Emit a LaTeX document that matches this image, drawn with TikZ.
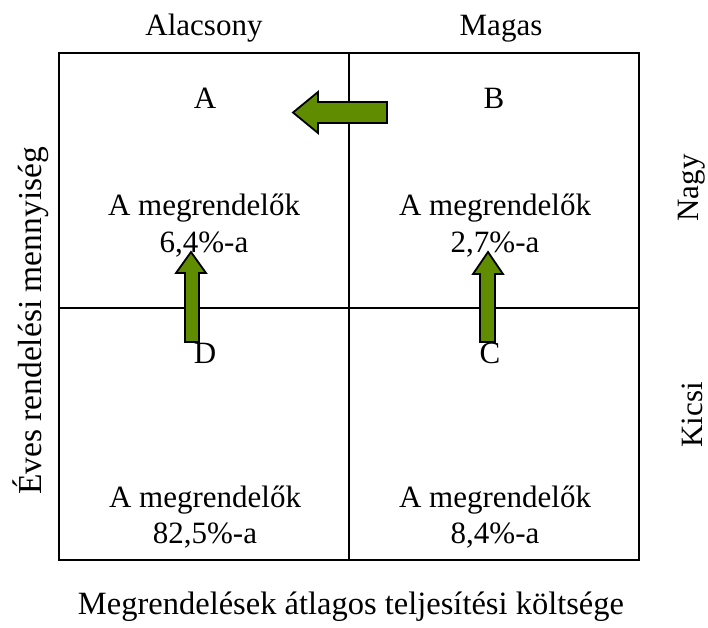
\documentclass[tikz,border=0pt]{standalone}
\usepackage{fontspec}
\setmainfont{Liberation Serif}
\definecolor{arrowgreen}{RGB}{96,140,0}
\begin{document}
\begin{tikzpicture}[x=1pt,y=-1pt,
  lbl/.style={inner sep=0pt,font=\fontsize{31}{36}\selectfont,anchor=base},
  rlbl/.style={inner sep=0pt,font=\fontsize{31}{36}\selectfont,rotate=90,anchor=center},
  grid/.style={line width=1.5pt,black},
  blockarrow/.style={fill=arrowgreen,draw=black,line width=1.8pt,line join=miter}]
\useasboundingbox (0,0) rectangle (708,627);
% frame and quadrants
\coordinate (tl) at (59,53);
\coordinate (br) at (639,560);
\coordinate (mt) at (349,53);
\coordinate (mb) at (349,560);
\coordinate (ml) at (59,308);
\coordinate (mr) at (639,308);
\draw[grid] (tl) rectangle (br);
\draw[grid] (mt) -- (mb);
\draw[grid] (ml) -- (mr);
% column / row headers
\node[lbl] (alacsony) at (204,35) {Alacsony};
\node[lbl] (magas) at (501,35) {Magas};
\node[rlbl] (nagy) at (692,188) {Nagy};
\node[rlbl] (kicsi) at (692,415) {Kicsi};
\node[rlbl,font=\fontsize{33.5}{38}\selectfont] (yaxis) at (31,321) {Éves rendelési mennyiség};
\node[lbl,font=\fontsize{32.5}{38}\selectfont] (xaxis) at (351,614) {Megrendelések átlagos teljesítési költsége};
% quadrant letters
\node[lbl] (qa) at (205,108) {A};
\node[lbl] (qb) at (494,108) {B};
\node[lbl] (qd) at (205,363) {D};
\node[lbl] (qc) at (490,363) {C};
% quadrant texts
\node[lbl] (ta1) at (204,215) {A megrendelők};
\node[lbl] (ta2) at (204,252) {6,4\%-a};
\node[lbl] (tb1) at (495,215) {A megrendelők};
\node[lbl] (tb2) at (495,252) {2,7\%-a};
\node[lbl] (td1) at (205,507) {A megrendelők};
\node[lbl] (td2) at (205,543) {82,5\%-a};
\node[lbl] (tc1) at (495,507) {A megrendelők};
\node[lbl] (tc2) at (495,543) {8,4\%-a};
% block arrows
\draw[blockarrow] (293,112.5) -- (318,92) -- (318,102) -- (387,102) -- (387,123) -- (318,123) -- (318,133) -- cycle;
\draw[blockarrow] (191,252) -- (206,273) -- (199,273) -- (199,342) -- (185,342) -- (185,273) -- (176,273) -- cycle;
\draw[blockarrow] (488,252) -- (503,274) -- (495,274) -- (495,342) -- (480,342) -- (480,274) -- (473,274) -- cycle;
\end{tikzpicture}
\end{document}
